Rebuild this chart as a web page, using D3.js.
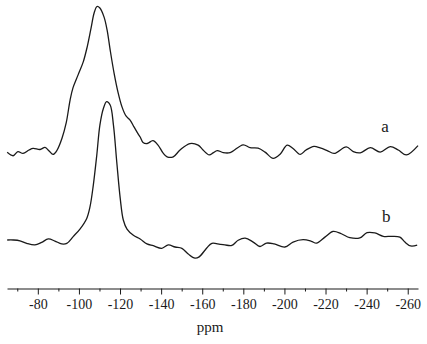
<!DOCTYPE html>
<html><head><meta charset="utf-8">
<script src="https://cdn.jsdelivr.net/npm/d3@7"></script>
<style>body{margin:0;background:#fff}svg{display:block}</style>
</head><body>
<svg id="c" width="427" height="344"></svg>
<script>
// spectrum a : [ppm, intensity]
const seriesA = [[-65.1,41.4],[-68.0,40.1],[-70.3,41.7],[-72.8,41.0],[-75.7,42.3],[-77.7,42.9],[-81.1,42.5],[-83.5,43.3],[-85.5,41.9],[-87.4,40.6],[-89.4,42.3],[-91.8,46.9],[-93.8,52.7],[-95.7,61.5],[-97.1,66.2],[-99.6,71.2],[-102.1,76.2],[-104.0,81.9],[-105.9,89.2],[-107.4,95.0],[-108.8,97.5],[-110.2,96.9],[-112.2,93.5],[-113.7,88.5],[-115.2,80.8],[-117.1,71.9],[-119.0,64.6],[-121.0,58.8],[-122.9,55.4],[-124.9,53.8],[-126.8,51.2],[-128.8,48.5],[-129.8,47.3],[-131.2,45.2],[-133.2,44.8],[-136.0,45.9],[-138.5,44.2],[-140.9,41.2],[-142.9,39.7],[-145.9,39.7],[-149.2,42.3],[-154.0,44.8],[-158.0,44.2],[-160.4,42.3],[-163.4,40.4],[-165.3,41.2],[-167.3,42.1],[-170.2,41.3],[-173.6,41.3],[-179.9,44.3],[-183.3,43.2],[-187.2,43.0],[-190.6,41.5],[-194.5,39.1],[-198.0,40.8],[-201.3,44.2],[-204.2,42.9],[-207.7,40.6],[-210.5,42.3],[-214.4,43.7],[-217.4,43.1],[-220.8,42.1],[-224.2,41.0],[-230.1,43.5],[-233.5,41.7],[-236.9,41.2],[-241.8,43.2],[-246.6,41.5],[-251.5,43.6],[-255.4,42.3],[-259.3,40.4],[-265.0,44.0]];
// spectrum b : [ppm, intensity]
const seriesB = [[-65.1,7.7],[-68.1,7.7],[-71.3,7.4],[-74.6,6.4],[-78.6,5.8],[-81.9,6.8],[-85.1,8.1],[-88.3,7.3],[-91.6,6.2],[-94.1,6.4],[-97.2,9.0],[-100.5,11.9],[-103.8,16.0],[-105.4,20.5],[-107.0,28.8],[-108.7,40.4],[-110.2,51.9],[-111.9,58.3],[-113.5,60.9],[-115.2,59.6],[-116.8,51.9],[-118.4,37.8],[-120.1,23.7],[-121.6,15.4],[-123.4,11.9],[-126.5,9.5],[-129.8,8.1],[-133.1,6.2],[-136.2,5.5],[-140.3,4.5],[-143.5,5.8],[-146.8,5.0],[-150.1,4.5],[-153.2,2.3],[-156.5,0.7],[-158.5,1.2],[-162.2,4.6],[-164.7,6.4],[-168.7,6.0],[-171.0,5.8],[-174.4,5.6],[-177.5,7.6],[-180.9,8.4],[-184.8,6.9],[-188.1,5.2],[-191.3,6.5],[-195.0,6.2],[-200.2,5.0],[-204.2,6.9],[-209.1,7.8],[-213.1,7.2],[-215.6,6.5],[-219.7,8.8],[-223.7,11.0],[-227.7,10.1],[-231.8,8.6],[-236.7,8.5],[-240.2,10.5],[-244.0,10.4],[-248.1,9.1],[-252.1,9.1],[-256.2,8.8],[-258.6,6.9],[-261.4,5.4],[-264.6,5.7]];
const seriesNames = ["a","b"];
const labelPos = [[-249.0,49.4],[-249.5,14.8]];   // [ppm, intensity] of series labels
const majorTicks = [-80,-100,-120,-140,-160,-180,-200,-220,-240,-260];
const minorTicks = [-70,-90,-110,-130,-150,-170,-190,-210,-230,-250];
const xTitle = "ppm";

const svg = d3.select("#c");
const x = d3.scaleLinear().domain([-65,-265]).range([7,418]);
const y = d3.scaleLinear().domain([0,100]).range([260,0]);
const font = "Liberation Serif, Times New Roman, serif";

const line = d3.line().x(d=>x(d[0])).y(d=>y(d[1])).curve(d3.curveCatmullRom.alpha(0.5));
[seriesA, seriesB].forEach(s=>{
  svg.append("path").attr("d", line(s)).attr("fill","none")
    .attr("stroke","#1a1a1a").attr("stroke-width",1.3).attr("stroke-linejoin","round");
});
seriesNames.forEach((n,i)=>{
  svg.append("text").attr("x", x(labelPos[i][0])).attr("y", y(labelPos[i][1]))
    .attr("text-anchor","middle").style("font-family",font).style("font-size","17px")
    .attr("fill","#1a1a1a").text(n);
});

const axisY = 288.5;
const gMinor = svg.append("g").attr("transform",`translate(0,${axisY})`)
  .call(d3.axisBottom(x).tickValues(minorTicks).tickSize(3).tickSizeOuter(0).tickFormat(""));
gMinor.select(".domain").remove();
gMinor.selectAll("line").attr("stroke","#1a1a1a").attr("stroke-width",1);
const g = svg.append("g").attr("transform",`translate(0,${axisY})`)
  .call(d3.axisBottom(x).tickValues(majorTicks).tickSize(6).tickSizeOuter(0).tickPadding(5).tickFormat(d=>d));
g.select(".domain").attr("stroke","#1a1a1a").attr("stroke-width",1.1);
g.selectAll(".tick line").attr("stroke","#1a1a1a").attr("stroke-width",1);
g.selectAll(".tick text").style("font-family",font).style("font-size","14px").attr("fill","#1a1a1a");

svg.append("text").attr("x",210).attr("y",332).attr("text-anchor","middle")
  .style("font-family",font).style("font-size","15px").attr("fill","#1a1a1a").text(xTitle);
</script>
</body></html>
